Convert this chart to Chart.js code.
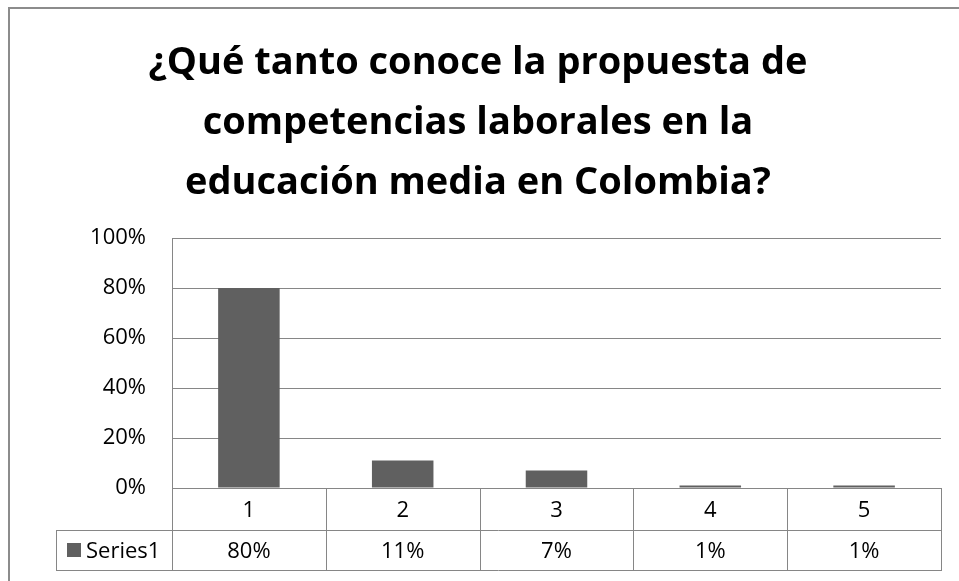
<!DOCTYPE html>
<html>
<head>
<meta charset="utf-8">
<script src="https://cdn.jsdelivr.net/npm/chart.js@4"></script>
<style>
  html, body { margin: 0; padding: 0; background: #fff; }
  #wrap { width: 959px; height: 581px; position: relative; }
</style>
</head>
<body>
<div id="wrap"><canvas id="surveyChart"></canvas></div>
<script>
// data
const categories = ['1', '2', '3', '4', '5'];
const series1 = [80, 11, 7, 1, 1];
const seriesName = 'Series1';
const yTicks = [0, 20, 40, 60, 80, 100];
const titleLines = [
  '¿Qué tanto conoce la propuesta de',
  'competencias laborales en la',
  'educación media en Colombia?'
];

const lineGray = '#868686';
const barGray = '#606060';
const fontFamily = '"Open Sans", Lato, sans-serif';

// outer frame, title and the data table under the plot
const tablePlugin = {
  id: 'dataTable',
  beforeDraw(chart) {
    const c = chart.ctx;
    c.save();
    c.strokeStyle = '#8c8c8c';
    c.lineWidth = 2;
    c.beginPath();
    c.moveTo(9, chart.height);
    c.lineTo(9, 8);
    c.lineTo(chart.width, 8);
    c.stroke();

    c.fillStyle = '#000';
    c.font = 'bold 38px ' + fontFamily;
    c.textAlign = 'center';
    c.textBaseline = 'middle';
    titleLines.forEach((t, i) => c.fillText(t, 478, 63 + i * 60));
    c.restore();
  },
  afterDraw(chart) {
    const c = chart.ctx;
    const x = chart.scales.x;
    const area = chart.chartArea;
    const top = area.bottom;
    const mid = top + 42;
    const bot = top + 82;
    const legendLeft = area.left - 116;
    const half = (x.getPixelForValue(1) - x.getPixelForValue(0)) / 2;

    c.save();
    c.strokeStyle = lineGray;
    c.lineWidth = 1;
    c.beginPath();
    // horizontals
    c.moveTo(area.left, top + 0.5); c.lineTo(area.right, top + 0.5);
    c.moveTo(legendLeft, mid + 0.5); c.lineTo(area.right, mid + 0.5);
    c.moveTo(legendLeft, bot + 0.5); c.lineTo(area.right, bot + 0.5);
    // verticals
    c.moveTo(legendLeft + 0.5, mid); c.lineTo(legendLeft + 0.5, bot + 1);
    c.moveTo(Math.round(area.left) + 0.5, top); c.lineTo(Math.round(area.left) + 0.5, bot + 1);
    categories.forEach((cat, i) => {
      const bx = Math.round(x.getPixelForValue(i) + half) + 0.5;
      c.moveTo(bx, top); c.lineTo(bx, bot + 1);
    });
    c.stroke();

    c.fillStyle = '#000';
    c.font = '22px ' + fontFamily;
    c.textAlign = 'center';
    c.textBaseline = 'middle';
    categories.forEach((cat, i) => {
      const cx = x.getPixelForValue(i);
      c.fillText(cat, cx, (top + mid) / 2 + 2);
      c.fillText(series1[i] + '%', cx, (mid + bot) / 2 + 2);
    });

    // legend key
    c.fillStyle = barGray;
    c.fillRect(legendLeft + 11, (mid + bot) / 2 - 7, 14, 14);
    c.fillStyle = '#000';
    c.textAlign = 'left';
    c.fillText(seriesName, legendLeft + 30, (mid + bot) / 2 + 2);
    c.restore();
  }
};

new Chart(document.getElementById('surveyChart'), {
  type: 'bar',
  data: {
    labels: categories,
    datasets: [{
      label: seriesName,
      data: series1,
      backgroundColor: barGray,
      barPercentage: 0.4,
      categoryPercentage: 1
    }]
  },
  options: {
    responsive: true,
    maintainAspectRatio: false,
    animation: false,
    layout: { padding: { left: 0, right: 18, top: 238, bottom: 93 } },
    plugins: {
      legend: { display: false },
      tooltip: { enabled: false },
      title: { display: false }
    },
    scales: {
      x: { display: false },
      y: {
        min: 0,
        max: 100,
        afterFit(scale) { scale.width = 172; },
        afterBuildTicks(scale) { scale.ticks = yTicks.map(v => ({ value: v })); },
        grid: { color: lineGray, drawTicks: false },
        border: { display: true, color: lineGray },
        ticks: {
          color: '#000',
          padding: 26,
          font: { family: fontFamily, size: 22 },
          callback: v => v + '%'
        }
      }
    }
  },
  plugins: [tablePlugin]
});
</script>
</body>
</html>
